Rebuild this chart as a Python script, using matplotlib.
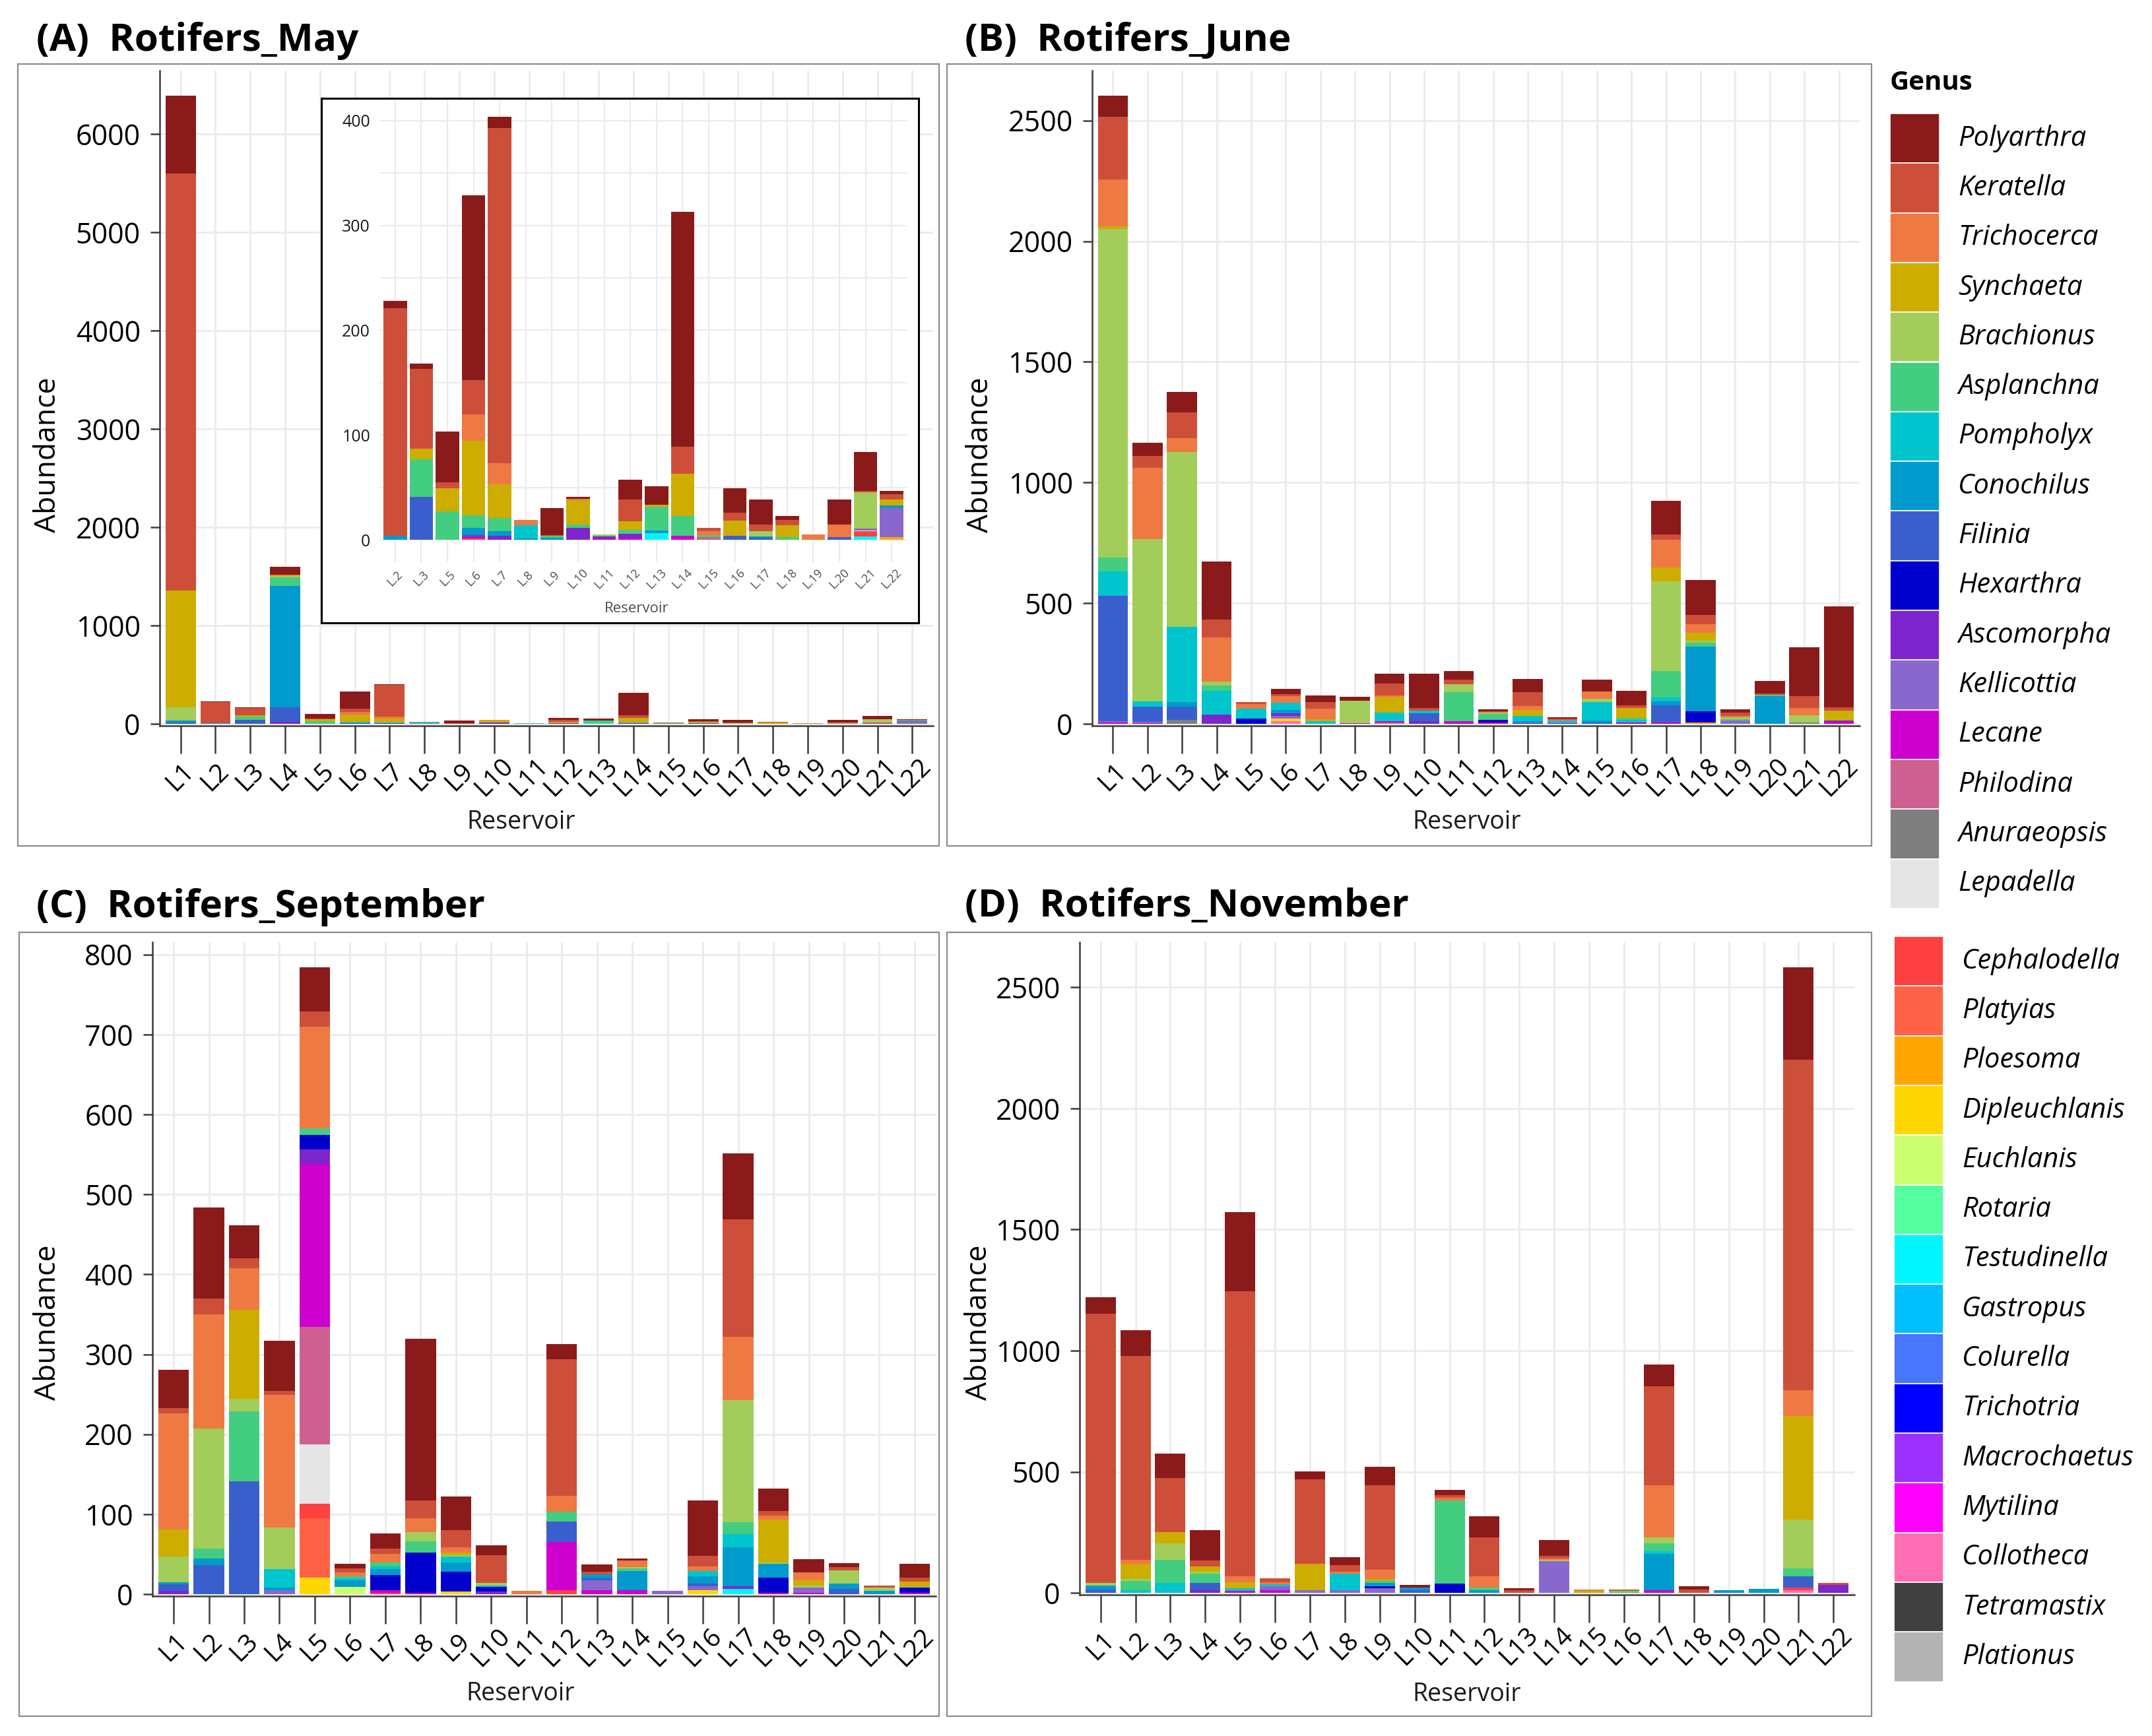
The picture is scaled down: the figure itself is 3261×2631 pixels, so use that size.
"""
Rotifer genus abundance per reservoir, four sampling months (stacked bars).
"""
import numpy as np
import matplotlib
matplotlib.use("Agg")
import matplotlib.pyplot as plt
from matplotlib.patches import Rectangle

plt.rcParams["font.family"] = ["Open Sans", "DejaVu Sans"]

W, H, DPI = 3261, 2631, 100

# ── Genera (legend order, top of stack first) and colours ─────────────────────
GENERA = ["Polyarthra", "Keratella", "Trichocerca", "Synchaeta", "Brachionus",
          "Asplanchna", "Pompholyx", "Conochilus", "Filinia", "Hexarthra",
          "Ascomorpha", "Kellicottia", "Lecane", "Philodina", "Anuraeopsis",
          "Lepadella", "Cephalodella", "Platyias", "Ploesoma", "Dipleuchlanis",
          "Euchlanis", "Rotaria", "Testudinella", "Gastropus", "Colurella",
          "Trichotria", "Macrochaetus", "Mytilina", "Collotheca", "Tetramastix",
          "Plationus"]
GENUS_COLORS = ["#8B1A1A", "#CD4F39", "#EE7942", "#CDAD00", "#A2CD5A",
                "#43CD80", "#00C5CD", "#009ACD", "#3A5FCD", "#0000CD",
                "#7D26CD", "#8968CD", "#CD00CD", "#CD6090", "#7F7F7F",
                "#E5E5E5", "#FF4040", "#FF6347", "#FFA500", "#FFD700",
                "#CAFF70", "#54FF9F", "#00F5FF", "#00BFFF", "#4876FF",
                "#0000FF", "#9B30FF", "#FF00FF", "#FF6EB4", "#404040",
                "#B3B3B3"]
COLORS = dict(zip(GENERA, GENUS_COLORS))

RESERVOIRS = ["L1", "L2", "L3", "L4", "L5", "L6", "L7", "L8", "L9", "L10", "L11",
              "L12", "L13", "L14", "L15", "L16", "L17", "L18", "L19", "L20",
              "L21", "L22"]

# inset of panel A leaves out L1 and L4
INSET_IDX = [1, 2, 4, 5, 6, 7, 8, 9, 10, 11, 12, 13, 14, 15, 16, 17, 18, 19, 20, 21]
INSET_LABELS = ["L.2", "L.3", "L.5", "L.6", "L.7", "L.8", "L.9", "L.10", "L.11",
                "L.12", "L.13", "L.14", "L.15", "L.16", "L.17", "L.18", "L.19",
                "L.20", "L.21", "L.22"]

# ── Abundance per genus, L1..L22 ──────────────────────────────────────────────
MAY = {
    "Polyarthra":   [790, 7, 5, 78, 48, 176, 11, 0, 26, 1.5, 0, 19, 17.4, 224, 0, 23.4, 23.7, 4, 0, 23.7, 37, 3.3],
    "Keratella":    [4240, 217, 76, 0, 6, 33, 320, 0, 1, 0, 0, 21, 0, 26, 3, 8, 6.6, 5, 0, 0, 1.6, 5],
    "Trichocerca":  [0, 0, 0, 5, 0, 25, 20, 5, 0, 1.5, 0, 0, 0, 0, 3.6, 0, 0, 0, 5, 12.5, 0, 0],
    "Synchaeta":    [1190, 0, 10, 12, 22, 71, 32, 0, 0, 23, 0, 8, 2.3, 40, 0, 14, 0, 11.5, 0, 0, 0, 5.6],
    "Brachionus":   [134, 0, 0, 10, 0, 0, 0, 0, 0, 0, 1, 0, 0, 0, 0, 0, 5, 0, 0, 0, 34.6, 0],
    "Asplanchna":   [0, 0, 36, 90, 27, 12, 13, 0, 1.5, 3.3, 1, 4, 22.4, 19, 2.3, 0, 0, 2.3, 0, 0, 0, 0],
    "Pompholyx":    [0, 0, 0, 0, 0, 0, 0, 13, 0, 0, 0, 0, 0, 0, 0, 0, 0, 0, 0, 0, 0, 0],
    "Conochilus":   [20, 4, 0, 1232, 0, 6.5, 4, 1, 2, 0, 0, 0, 2.6, 0, 0, 0, 1.6, 0, 0, 0, 0, 2.6],
    "Filinia":      [14, 0, 41, 146, 0, 2, 0, 0, 0, 0, 0, 0, 0, 0, 0, 4, 1.6, 0, 0, 2.3, 0, 0],
    "Ascomorpha":   [0, 0, 0, 22, 0, 0, 4, 0, 0, 11.5, 2, 4, 0, 0, 0, 0, 0, 0, 0, 0, 0, 0],
    "Kellicottia":  [0, 0, 0, 0, 0, 0, 0, 0, 0, 0, 0, 0, 0, 0, 0, 0, 0, 0, 0, 0, 1.6, 28],
    "Lecane":       [0, 0, 0, 0, 0, 2, 0, 0, 0, 0, 1, 1.6, 0, 4, 0, 0, 0, 0, 0, 0, 0, 0],
    "Philodina":    [0, 0, 0, 0, 0, 0, 0, 0, 0, 0, 0, 0, 0, 0, 2.3, 0, 0, 0, 0, 0, 0, 0],
    "Lepadella":    [0, 0, 0, 0, 0, 0, 0, 0, 0, 0, 0, 0, 0, 0, 0, 0, 0, 0, 0, 0, 0.8, 0],
    "Cephalodella": [0, 0, 0, 0, 0, 1, 0, 0, 0, 0, 0, 0, 0, 0, 0, 0, 0, 0, 0, 0, 5.3, 0],
    "Ploesoma":     [0, 0, 0, 0, 0, 0, 0, 0, 0, 0, 0, 0, 0, 0, 0, 0, 0, 0, 0, 0, 0, 2.3],
    "Testudinella": [0, 0, 0, 0, 0, 0, 0, 0, 0, 0, 0, 0, 6.3, 0, 0, 0, 0, 0, 0, 0, 3, 0],
}

JUNE = {
    "Polyarthra":   [86, 55, 86, 241, 0, 22, 29, 14, 43, 142, 34, 7, 55, 6, 50, 60, 138, 144, 12, 54, 200, 419],
    "Keratella":    [262, 48, 106, 73, 8, 9, 26, 0, 48, 12, 21, 3, 59, 5, 0, 12, 23, 38, 14, 5, 51, 15],
    "Trichocerca":  [193, 295, 57, 184, 17, 26, 43, 0, 7, 0, 0, 3, 16, 3, 29, 0, 115, 35, 6, 0, 30, 0],
    "Synchaeta":    [12, 0, 0, 0, 0, 0, 8, 0, 65, 0, 0, 0, 24, 0, 0, 41, 57, 33, 0, 0, 0, 41],
    "Brachionus":   [1360, 673, 724, 17, 0, 0, 0, 94, 0, 0, 31, 7, 0, 0, 15, 0, 371, 9, 7, 0, 29, 0],
    "Asplanchna":   [57, 0, 0, 22, 0, 0, 0, 0, 0, 0, 120, 23, 0, 0, 0, 7, 109, 16, 6, 5, 0, 0],
    "Pompholyx":    [103, 22, 314, 98, 43, 30, 12, 0, 34, 12, 0, 0, 23, 11, 74, 11, 18, 0, 0, 0, 0, 0],
    "Conochilus":   [0, 0, 17, 0, 0, 13, 0, 0, 0, 0, 0, 0, 6, 0, 9, 0, 14, 269, 0, 115, 0, 0],
    "Filinia":      [518, 63, 55, 0, 0, 0, 0, 0, 0, 31, 0, 0, 0, 0, 6, 0, 72, 0, 0, 0, 0, 0],
    "Hexarthra":    [0, 0, 0, 0, 21, 0, 0, 0, 0, 0, 0, 12, 0, 0, 0, 0, 0, 45, 0, 0, 0, 0],
    "Ascomorpha":   [0, 0, 0, 38, 0, 12, 0, 0, 0, 12, 0, 0, 0, 0, 0, 0, 0, 0, 0, 0, 0, 5],
    "Kellicottia":  [6, 5, 0, 0, 0, 12, 0, 0, 0, 0, 0, 0, 0, 0, 0, 0, 0, 0, 14, 0, 0, 0],
    "Lecane":       [6, 4, 0, 0, 0, 0, 0, 3, 6, 0, 12, 5, 4, 3, 0, 6, 6, 0, 0, 0, 0, 8],
    "Philodina":    [0, 0, 0, 0, 0, 0, 0, 0, 6, 0, 0, 0, 0, 0, 0, 0, 0, 0, 0, 0, 0, 0],
    "Anuraeopsis":  [0, 0, 17, 0, 0, 0, 0, 0, 0, 0, 0, 0, 0, 0, 0, 0, 0, 0, 0, 0, 6, 0],
    "Ploesoma":     [0, 0, 0, 0, 0, 0, 0, 0, 0, 0, 0, 0, 0, 0, 0, 0, 0, 6, 0, 0, 0, 0],
    "Dipleuchlanis": [0, 0, 0, 0, 0, 9, 0, 0, 0, 0, 0, 0, 0, 0, 0, 0, 0, 0, 0, 0, 0, 0],
    "Collotheca":   [0, 0, 0, 0, 0, 12, 0, 0, 0, 0, 0, 0, 0, 0, 0, 0, 0, 0, 0, 0, 0, 0],
}

SEPTEMBER = {
    "Polyarthra":   [48, 114, 41, 63, 55, 6, 19, 202, 42, 12, 0, 19, 9, 3, 0, 69, 82, 28, 17, 5, 0, 17],
    "Keratella":    [7, 20, 12, 5, 19, 5, 7, 22, 21, 35, 0, 171, 3, 0, 0, 13, 147, 6, 0, 4, 3, 5],
    "Trichocerca":  [145, 143, 52, 166, 127, 5, 10, 17, 7, 0, 4, 20, 0, 8, 0, 6, 79, 5, 10, 0, 0, 0],
    "Synchaeta":    [34, 0, 112, 0, 0, 0, 0, 0, 3, 0, 0, 0, 0, 0, 0, 0, 0, 53, 6, 0, 0, 7],
    "Brachionus":   [32, 150, 15, 52, 0, 0, 0, 12, 2, 3, 0, 0, 0, 2, 0, 0, 153, 2, 3, 17, 4, 1],
    "Asplanchna":   [0, 12, 88, 0, 9, 2, 5, 14, 0, 0, 0, 12, 0, 3, 0, 0, 15, 0, 0, 0, 0, 0],
    "Pompholyx":    [0, 0, 0, 23, 0, 3, 4, 0, 7, 2, 0, 0, 0, 0, 0, 7, 16, 0, 0, 0, 0, 0],
    "Conochilus":   [3, 9, 0, 3, 0, 8, 7, 0, 12, 0, 0, 0, 5, 24, 0, 9, 49, 17, 0, 6, 4, 0],
    "Filinia":      [8, 36, 141, 0, 0, 0, 0, 0, 0, 0, 0, 26, 3, 0, 0, 3, 0, 0, 0, 7, 0, 0],
    "Hexarthra":    [0, 0, 0, 0, 18, 0, 19, 50, 25, 6, 0, 0, 0, 0, 0, 0, 0, 19, 0, 0, 0, 6],
    "Ascomorpha":   [4, 0, 0, 0, 18, 0, 0, 0, 0, 3, 0, 0, 0, 0, 0, 0, 3, 0, 0, 0, 0, 0],
    "Kellicottia":  [0, 0, 0, 5, 0, 0, 0, 0, 0, 0, 0, 0, 12, 0, 4, 5, 0, 0, 6, 0, 0, 0],
    "Lecane":       [0, 0, 0, 0, 204, 0, 3, 2, 0, 0, 0, 60, 5, 5, 0, 0, 0, 2, 2, 0, 0, 2],
    "Philodina":    [0, 0, 0, 0, 147, 0, 0, 0, 0, 0, 0, 0, 0, 0, 0, 0, 0, 0, 0, 0, 0, 0],
    "Lepadella":    [0, 0, 0, 0, 74, 0, 0, 0, 0, 0, 0, 0, 0, 0, 0, 0, 0, 0, 0, 0, 0, 0],
    "Cephalodella": [0, 0, 0, 0, 18, 0, 2, 0, 0, 0, 0, 5, 0, 0, 0, 0, 0, 0, 0, 0, 0, 0],
    "Platyias":     [0, 0, 0, 0, 74, 0, 0, 0, 0, 0, 0, 0, 0, 0, 0, 0, 0, 0, 0, 0, 0, 0],
    "Dipleuchlanis": [0, 0, 0, 0, 21, 0, 0, 0, 3, 0, 0, 0, 0, 0, 0, 5, 0, 0, 0, 0, 0, 0],
    "Euchlanis":    [0, 0, 0, 0, 0, 9, 0, 0, 0, 0, 0, 0, 0, 0, 0, 0, 0, 0, 0, 0, 0, 0],
    "Testudinella": [0, 0, 0, 0, 0, 0, 0, 0, 0, 0, 0, 0, 0, 0, 0, 0, 7, 0, 0, 0, 0, 0],
}

NOVEMBER = {
    "Polyarthra":   [68, 107, 102, 126, 327, 0, 34, 34, 75, 11, 23, 87, 7, 64, 0, 0, 91, 14, 0, 0, 381, 0],
    "Keratella":    [1112, 840, 222, 25, 1176, 16, 349, 27, 349, 0, 11, 160, 11, 11, 0, 5, 407, 13, 0, 0, 1365, 7],
    "Trichocerca":  [0, 18, 0, 0, 23, 9, 0, 7, 39, 0, 11, 46, 0, 5, 7, 0, 217, 0, 0, 0, 107, 0],
    "Synchaeta":    [0, 62, 46, 21, 27, 0, 108, 0, 7, 0, 0, 0, 0, 0, 7, 0, 0, 0, 0, 0, 427, 0],
    "Brachionus":   [12, 7, 68, 7, 0, 0, 0, 0, 0, 0, 0, 0, 0, 7, 0, 4, 23, 0, 0, 0, 201, 0],
    "Asplanchna":   [0, 39, 96, 39, 0, 0, 0, 0, 9, 0, 342, 11, 0, 0, 0, 5, 34, 0, 0, 0, 34, 0],
    "Pompholyx":    [0, 11, 41, 0, 11, 9, 0, 69, 0, 0, 0, 0, 0, 0, 0, 0, 11, 0, 0, 0, 0, 0],
    "Conochilus":   [14, 0, 0, 0, 0, 0, 0, 0, 14, 11, 0, 11, 0, 0, 0, 0, 149, 0, 11, 16, 0, 0],
    "Filinia":      [15, 0, 0, 30, 0, 0, 0, 0, 0, 11, 0, 0, 0, 0, 0, 0, 0, 0, 0, 0, 45, 0],
    "Hexarthra":    [0, 0, 0, 0, 0, 0, 0, 0, 9, 0, 39, 0, 0, 0, 0, 0, 0, 0, 0, 0, 0, 0],
    "Ascomorpha":   [0, 0, 0, 11, 0, 0, 0, 0, 0, 0, 0, 0, 0, 0, 0, 0, 0, 0, 0, 0, 0, 34],
    "Kellicottia":  [0, 0, 0, 0, 0, 16, 11, 11, 18, 0, 0, 0, 0, 130, 0, 0, 0, 0, 0, 0, 0, 0],
    "Lecane":       [0, 0, 0, 0, 7, 11, 0, 0, 0, 0, 0, 0, 0, 0, 0, 0, 11, 0, 0, 0, 0, 0],
    "Cephalodella": [0, 0, 0, 0, 0, 0, 0, 0, 0, 0, 0, 0, 0, 0, 0, 0, 0, 0, 0, 0, 11, 0],
    "Collotheca":   [0, 0, 0, 0, 0, 0, 0, 0, 0, 0, 0, 0, 0, 0, 0, 0, 0, 0, 0, 0, 12, 0],
}

GRID = "#EBEBEB"
AXIS = "#3C3C3C"


def px_axes(fig, l, t, r, b, **kw):
    """Axes placed by pixel box (origin top-left)."""
    return fig.add_axes([l / W, 1 - b / H, (r - l) / W, (b - t) / H], **kw)


def draw_stack(ax, data, idx, width):
    x = np.arange(len(idx))
    bottom = np.zeros(len(idx))
    for g in reversed(GENERA):          # first genus ends up on top
        if g not in data:
            continue
        vals = np.asarray(data[g], dtype=float)[idx]
        ax.bar(x, vals, width=width, bottom=bottom, color=COLORS[g],
               linewidth=0, zorder=2)
        bottom += vals
    return bottom


fig = plt.figure(figsize=(W / DPI, H / DPI), dpi=DPI)
fig.patch.set_facecolor("white")

# background layer in pixel coordinates: frames, titles, legend
bg = fig.add_axes([0, 0, 1, 1], zorder=0)
bg.set_xlim(0, W)
bg.set_ylim(H, 0)
bg.axis("off")
bg.patch.set_alpha(0)

# tag, title, data, axes box, frame box, y step, ylabel pos, xlabel pos, title pos
panels = [
    ("(A)", "Rotifers_May", MAY, (242, 107, 1414, 1100), (27, 97, 1423, 1282),
     1000, (73, 689), (790, 1246), (55, 77)),
    ("(B)", "Rotifers_June", JUNE, (1655, 107, 2818, 1100), (1435, 97, 2836, 1282),
     500, (1486, 689), (2223, 1246), (1462, 77)),
    ("(C)", "Rotifers_September", SEPTEMBER, (231, 1428, 1418, 2419), (29, 1413, 1423, 2601),
     100, (73, 2004), (789, 2567), (55, 1390)),
    ("(D)", "Rotifers_November", NOVEMBER, (1636, 1428, 2810, 2417), (1435, 1413, 2836, 2601),
     500, (1484, 2004), (2223, 2568), (1462, 1389)),
]

all_idx = np.arange(len(RESERVOIRS))
for tag, title, data, box, frame, step, ylab, xlab, tpos in panels:
    fl, ft, fr, fb = frame
    bg.add_patch(Rectangle((fl, ft), fr - fl, fb - ft, fill=False,
                           edgecolor="#8C8C8C", linewidth=1.6))
    bg.text(tpos[0], tpos[1], f"{tag}  {title}", fontsize=42, fontweight="bold",
            ha="left", va="baseline", color="black")

    l, t, r, b = box
    ax = px_axes(fig, l, t, r, b, zorder=1)
    totals = draw_stack(ax, data, all_idx, 0.87)
    top = totals.max() * 1.04
    ax.set_ylim(-0.003 * top, top)
    ax.set_xlim(-0.6, len(RESERVOIRS) - 0.4)
    ax.set_xticks(all_idx)
    ax.set_xticklabels(RESERVOIRS)
    ax.set_yticks(np.arange(0, top, step))

    for s in ("top", "right"):
        ax.spines[s].set_visible(False)
    for s in ("left", "bottom"):
        ax.spines[s].set_color(AXIS)
        ax.spines[s].set_linewidth(1.8)
    ax.grid(True, color=GRID, linewidth=2.0, zorder=0)
    ax.set_axisbelow(True)

    ax.tick_params(axis="y", length=10, width=1.8, color=AXIS, pad=11,
                   labelsize=31, labelcolor="black")
    # rotated labels sit centred on a point below each long tick
    ax.tick_params(axis="x", length=30, width=1.8, color=AXIS, pad=26,
                   labelsize=28, labelcolor="black", labelrotation=45)
    for lab in ax.get_xticklabels():
        lab.set_va("center")
        lab.set_ha("center")

    ax.set_ylabel("Abundance", fontsize=32, color="black")
    ax.set_xlabel("Reservoir", fontsize=27, color="#1A1A1A")
    ax.yaxis.set_label_coords((ylab[0] - l) / (r - l), (b - ylab[1]) / (b - t))
    ax.xaxis.set_label_coords((xlab[0] - l) / (r - l), (b - xlab[1]) / (b - t))
    ax.yaxis.label.set_va("center")
    ax.xaxis.label.set_va("center")

# ── Inset of panel A (zoom on the small reservoirs) ───────────────────────────
frame_ax = px_axes(fig, 487, 149, 1392, 944, zorder=3)
frame_ax.set_xticks([])
frame_ax.set_yticks([])
frame_ax.set_facecolor("white")
for s in frame_ax.spines.values():
    s.set_color("black")
    s.set_linewidth(2.2)

ins_l, ins_t, ins_r, ins_b = 575, 152, 1375, 852
ins = px_axes(fig, ins_l, ins_t, ins_r, ins_b, zorder=4)
ins.patch.set_alpha(0)
draw_stack(ins, MAY, np.array(INSET_IDX), 0.9)
ins.set_xlim(-0.6, len(INSET_IDX) - 0.4)
ins.set_ylim(-21.4, 419.5)
ins.set_xticks(np.arange(len(INSET_IDX)))
ins.set_xticklabels(INSET_LABELS)
ins.set_yticks(np.arange(0, 401, 100))
ins.set_yticks(np.arange(50, 401, 100), minor=True)
ins.grid(True, which="both", color=GRID, linewidth=1.6, zorder=0)
ins.set_axisbelow(True)
for s in ins.spines.values():
    s.set_visible(False)
ins.tick_params(axis="y", which="both", length=0, pad=10, labelsize=18,
                labelcolor="#1A1A1A")
ins.tick_params(axis="x", length=0, pad=18, labelsize=13, labelcolor="#4D4D4D",
                labelrotation=45)
for lab in ins.get_xticklabels():
    lab.set_va("center")
    lab.set_ha("center")
ins.set_xlabel("Reservoir", fontsize=16, color="#4D4D4D")
ins.xaxis.set_label_coords((965 - ins_l) / (ins_r - ins_l),
                           (ins_b - 922) / (ins_b - ins_t))
ins.xaxis.label.set_va("center")

# ── Legend (two blocks of keys) ───────────────────────────────────────────────
bg.text(2864, 125, "Genus", fontsize=29, fontweight="bold", ha="left",
        va="center", color="black")
key = 75.3
blocks = [(GENERA[:16], 2864, 172.0), (GENERA[16:], 2870, 1419.0)]
for names, kx, ky in blocks:
    for i, g in enumerate(names):
        y0 = ky + i * key
        bg.add_patch(Rectangle((kx, y0), key, key, facecolor=COLORS[g],
                               edgecolor="white", linewidth=1.2))
        bg.text(kx + key + 28, y0 + key / 2, g, fontsize=30, style="italic",
                ha="left", va="center", color="black")

fig.savefig("out.png", dpi=DPI, facecolor="white")
